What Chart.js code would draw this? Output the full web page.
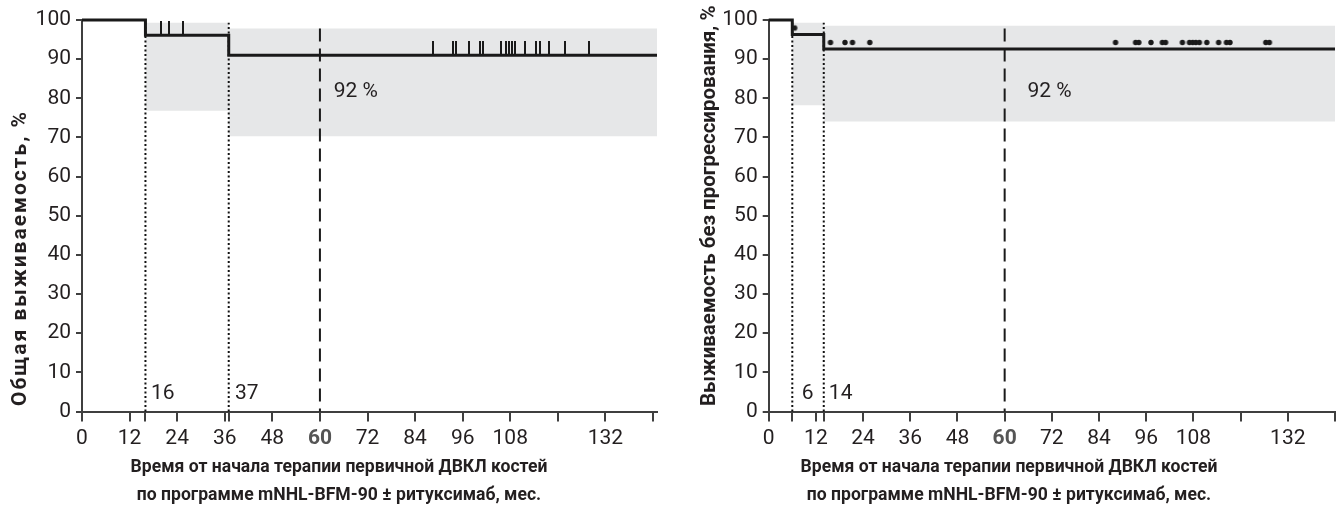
<!DOCTYPE html>
<html>
<head>
<meta charset="utf-8">
<script src="https://cdn.jsdelivr.net/npm/chart.js@4.4.1/dist/chart.umd.min.js"></script>
<style>
  html, body { margin: 0; padding: 0; background: #ffffff; }
  #wrap { position: relative; width: 1340px; height: 509px; }
  .box { position: absolute; top: 0; width: 670px; height: 509px; }
  #boxL { left: 0; }
  #boxR { left: 670px; }
</style>
</head>
<body>
<div id="wrap">
  <div class="box" id="boxL"><canvas id="cL" width="670" height="509"></canvas></div>
  <div class="box" id="boxR"><canvas id="cR" width="670" height="509"></canvas></div>
</div>
<script>
// ---------- DATA ----------
// Y axis ticks (both charts)
const yTicks = [0, 10, 20, 30, 40, 50, 60, 70, 80, 90, 100];
const xTitleLines = ['Время от начала терапии первичной ДВКЛ костей', 'по программе mNHL-BFM-90 ± ритуксимаб, мес.'];

// Left chart: overall survival
const xTicksL  = [0, 12, 16, 24, 36, 37, 48, 60, 72, 84, 96, 108, 120, 132, 144];
const xLabelsL = ['0', '12', '', '24', '36', '', '48', '60', '72', '84', '96', '108', '', '132', ''];
const osTimes  = [0, 16, 37, 145];
const osValues = [100, 96.1, 91, 91];
const osBandTimes = [16, 37, 145];
const osBandHigh  = [99.3, 97.8, 97.8];
const osBandLow   = [76.8, 70.3, 70.3];
const osCensorTimes  = [20, 22, 25.5, 88.6, 93.6, 94.4, 97.5, 100.3, 101.0, 105.6, 106.9, 107.7, 108.5, 109.3, 111.6, 114.6, 115.6, 117.8, 121.7, 127.9];
const osCensorValues = [96.1, 96.1, 96.1, 91, 91, 91, 91, 91, 91, 91, 91, 91, 91, 91, 91, 91, 91, 91, 91, 91];
const osDotted = [16, 37];
const osDashed = [60];

// Right chart: progression-free survival
const xTicksR  = [0, 6, 12, 14, 24, 36, 48, 60, 72, 84, 96, 108, 120, 132, 144];
const xLabelsR = ['0', '', '12', '', '24', '36', '48', '60', '72', '84', '96', '108', '', '132', ''];
const pfsTimes  = [0, 6, 14, 144];
const pfsValues = [100, 96.3, 92.6, 92.6];
const pfsBandTimes = [6, 14, 144];
const pfsBandHigh  = [99.3, 98.5, 98.5];
const pfsBandLow   = [78.2, 74.1, 74.1];
const pfsCensorTimes  = [6.6, 15.7, 19.4, 21.3, 25.7, 88.2, 93.3, 94.1, 97.2, 100.1, 100.9, 105.2, 107.0, 107.8, 108.6, 109.5, 111.4, 114.4, 116.4, 117.3, 126.4, 127.3];
const pfsCensorValues = [96.3, 92.6, 92.6, 92.6, 92.6, 92.6, 92.6, 92.6, 92.6, 92.6, 92.6, 92.6, 92.6, 92.6, 92.6, 92.6, 92.6, 92.6, 92.6, 92.6, 92.6, 92.6];
const pfsDotted = [6, 14];
const pfsDashed = [60];

// ---------- STYLE ----------
const FONT = 'Roboto, "Liberation Sans", sans-serif';
const INK = '#231f20';
const AXIS = '#3f3f3f';
const BAND = '#e6e7e8';

function pts(xs, ys) { return xs.map((x, i) => ({ x: x, y: ys[i] })); }

// censor marks: vertical tick above the curve (left) and dot above the curve (right)
function makeTick() {
  const c = document.createElement('canvas');
  c.width = 2; c.height = 28;
  const g = c.getContext('2d');
  g.fillStyle = '#1a1a1a';
  g.fillRect(0, 0, 2, 13);
  return c;
}
function makeDot() {
  const c = document.createElement('canvas');
  c.width = 8; c.height = 26;
  const g = c.getContext('2d');
  g.fillStyle = '#1a1a1a';
  g.beginPath(); g.arc(4, 6.5, 2.7, 0, Math.PI * 2); g.fill();
  return c;
}

const textPlugin = {
  id: 'kmText',
  afterDatasetsDraw(chart, args, opts) {
    const ctx = chart.ctx, xs = chart.scales.x, ys = chart.scales.y;
    ctx.save();
    ctx.fillStyle = INK;
    ctx.font = '400 21px ' + FONT;
    ctx.textBaseline = 'middle';
    ctx.textAlign = 'left';
    (opts.items || []).forEach(it => {
      ctx.fillText(it.text, xs.getPixelForValue(it.x), ys.getPixelForValue(it.y));
    });
    ctx.restore();
  },
  afterDraw(chart, args, opts) {
    const ctx = chart.ctx;
    ctx.save();
    ctx.fillStyle = INK;
    // x axis title, centred on the panel (slightly condensed)
    ctx.save();
    ctx.translate(opts.xTitleX, 0);
    ctx.scale(0.95, 1);
    ctx.font = '700 18.5px ' + FONT;
    ctx.textAlign = 'center';
    ctx.textBaseline = 'middle';
    opts.xTitle.forEach((line, i) => ctx.fillText(line, 0, 467 + i * 28));
    ctx.restore();
    // y axis title, rotated, starting near the bottom of the axis
    ctx.translate(opts.yTitleX, 406);
    ctx.rotate(-Math.PI / 2);
    ctx.font = '700 ' + opts.yTitleSize + 'px ' + FONT;
    if ('letterSpacing' in ctx) ctx.letterSpacing = opts.yTitleSpacing + 'px';
    ctx.textAlign = 'left';
    ctx.textBaseline = 'alphabetic';
    ctx.fillText(opts.yTitle, 0, 0);
    ctx.restore();
  }
};

function build(canvasId, cfg) {
  const vlines = [];
  cfg.dotted.forEach(t => vlines.push({
    type: 'line', data: pts([t, t], [0, 99.3]), borderColor: '#111111', borderWidth: 2,
    borderDash: [2, 2.5], pointRadius: 0, fill: false, order: 4, clip: false
  }));
  cfg.dashed.forEach(t => vlines.push({
    type: 'line', data: pts([t, t], [97.8, 0]), borderColor: '#1a1a1a', borderWidth: 2,
    borderDash: [13, 7], pointRadius: 0, fill: false, order: 4, clip: false
  }));

  const datasets = [
    { label: 'band-high', data: pts(cfg.bandT, cfg.bandHi), stepped: true, borderWidth: 0,
      borderColor: 'rgba(0,0,0,0)', pointRadius: 0, fill: false, order: 6 },
    { label: 'band-low', data: pts(cfg.bandT, cfg.bandLo), stepped: true, borderWidth: 0,
      borderColor: 'rgba(0,0,0,0)', backgroundColor: BAND, pointRadius: 0, fill: '-1', order: 5 },
    ...vlines,
    { label: 'curve', data: pts(cfg.t, cfg.v), stepped: true, borderColor: '#1a1a1a',
      borderWidth: 3, pointRadius: 0, fill: false, order: 1, clip: false },
    { label: 'censored', data: pts(cfg.ct, cfg.cv), showLine: false, pointStyle: cfg.mark,
      pointRadius: 3, order: 0, clip: false }
  ];

  return new Chart(document.getElementById(canvasId), {
    type: 'line',
    data: { datasets: datasets },
    plugins: [textPlugin],
    options: {
      responsive: false,
      animation: false,
      events: [],
      layout: { autoPadding: false, padding: { top: 20, right: cfg.padRight, bottom: 0, left: 0 } },
      plugins: {
        legend: { display: false }, tooltip: { enabled: false },
        kmText: { items: cfg.texts, xTitle: xTitleLines, xTitleX: 339, yTitle: cfg.yTitle,
                  yTitleX: cfg.yTitleX, yTitleSize: cfg.yTitleSize, yTitleSpacing: cfg.yTitleSpacing }
      },
      scales: {
        x: {
          type: 'linear', min: 0, max: cfg.xmax,
          afterFit(s) { s.height = 97.5; },
          afterBuildTicks(s) { s.ticks = cfg.xTicks.map(v => ({ value: v })); },
          ticks: {
            autoSkip: false, maxRotation: 0, padding: 5,
            callback: (v, i) => cfg.xLabels[i],
            color: (c) => (c.tick && c.tick.value === 60) ? '#555555' : INK,
            font: (c) => (c.tick && c.tick.value === 60)
              ? { family: FONT, size: 21, weight: '700' }
              : { family: FONT, size: 21, weight: '400' }
          },
          grid: { display: true, drawOnChartArea: false, drawTicks: true, tickLength: 10, color: AXIS, lineWidth: 2 },
          border: { display: true, color: AXIS, width: 2 },
          title: { display: false }
        },
        y: {
          type: 'linear', min: 0, max: 100,
          afterFit(s) { s.width = cfg.yWidth; },
          afterBuildTicks(s) { s.ticks = yTicks.map(v => ({ value: v })); },
          ticks: { padding: 5, color: INK, font: { family: FONT, size: 21, weight: '400' } },
          grid: { display: true, drawOnChartArea: false, drawTicks: true, tickLength: 6, color: AXIS, lineWidth: 2 },
          border: { display: true, color: AXIS, width: 2 },
          title: { display: false }
        }
      }
    }
  });
}

build('cL', {
  t: osTimes, v: osValues, bandT: osBandTimes, bandHi: osBandHigh, bandLo: osBandLow,
  ct: osCensorTimes, cv: osCensorValues, mark: makeTick(), dotted: osDotted, dashed: osDashed,
  xTicks: xTicksL, xLabels: xLabelsL, xmax: 145, yWidth: 82, padRight: 13,
  yTitle: 'Общая выживаемость, %', yTitleX: 26, yTitleSize: 21, yTitleSpacing: 2.0,
  texts: [{ x: 17.4, y: 4.5, text: '16' }, { x: 38.6, y: 4.5, text: '37' }, { x: 63.5, y: 81.8, text: '92 %' }]
});

build('cR', {
  t: pfsTimes, v: pfsValues, bandT: pfsBandTimes, bandHi: pfsBandHigh, bandLo: pfsBandLow,
  ct: pfsCensorTimes, cv: pfsCensorValues, mark: makeDot(), dotted: pfsDotted, dashed: pfsDashed,
  xTicks: xTicksR, xLabels: xLabelsR, xmax: 144, yWidth: 98.7, padRight: 0,
  yTitle: 'Выживаемость без прогрессирования, %', yTitleX: 45, yTitleSize: 20.5, yTitleSpacing: 0,
  texts: [{ x: 8.4, y: 4.5, text: '6' }, { x: 15.3, y: 4.5, text: '14' }, { x: 65.8, y: 81.8, text: '92 %' }]
});
</script>
</body>
</html>
